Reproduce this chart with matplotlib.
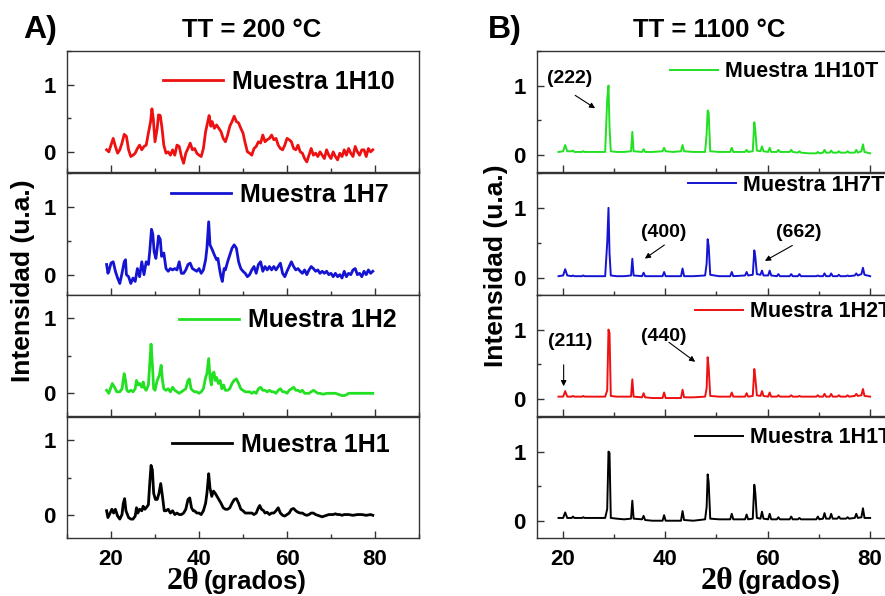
import matplotlib
matplotlib.use("Agg")
import matplotlib.pyplot as plt
from matplotlib.ticker import MultipleLocator

plt.rcParams['font.family'] = ['Liberation Sans', 'DejaVu Sans']
plt.rcParams['font.weight'] = 'bold'

# ---------------- TT = 200 °C (noisy, poorly crystallised) ----------------
x_1h10 = [19, 19.5, 20, 20.5, 21, 21.5, 22, 22.5, 23, 23.5,
          24, 24.5, 25, 25.5, 26, 26.5, 27, 27.5, 28, 28.5,
          29, 29.3, 29.6, 30, 30.5, 30.8, 31.2, 31.6, 32, 32.5,
          33, 33.5, 34, 34.5, 35, 35.5, 36, 36.5, 37, 37.5,
          38, 38.5, 39, 39.5, 40, 40.5, 41, 41.5, 42, 42.3,
          42.7, 43, 43.5, 44, 44.5, 45, 45.5, 46, 46.5, 47,
          47.5, 48, 48.5, 49, 49.5, 50, 50.5, 51, 51.5, 52,
          52.5, 53, 53.5, 54, 54.5, 55, 55.5, 56, 56.5, 57,
          57.5, 58, 58.5, 59, 59.5, 60, 60.5, 61, 61.5, 62,
          62.5, 63, 63.5, 64, 64.5, 65, 65.5, 66, 66.5, 67,
          67.5, 68, 68.5, 69, 69.5, 70, 70.5, 71, 71.5, 72,
          72.5, 73, 73.5, 74, 74.5, 75, 75.5, 76, 76.5, 77,
          77.5, 78, 78.5, 79, 79.5]
y_1h10 = [0.03, 0.0, 0.1, 0.2, 0.08, -0.02, 0.03, 0.13, 0.26, 0.23,
          0.03, -0.07, -0.05, -0.02, 0.05, 0.1, 0.03, 0.08, 0.1, 0.28,
          0.45, 0.64, 0.5, 0.15, 0.35, 0.55, 0.54, 0.35, 0.1, -0.02,
          0.0, -0.05, 0.03, -0.05, 0.1, 0.08, -0.07, -0.17, -0.02, 0.05,
          0.13, 0.03, 0.05, -0.02, -0.05, -0.07, 0.05, 0.3, 0.45, 0.54,
          0.38, 0.45, 0.35, 0.4, 0.35, 0.3, 0.2, 0.15, 0.25, 0.38,
          0.45, 0.53, 0.45, 0.43, 0.35, 0.28, 0.13, 0.0, -0.02, -0.05,
          0.05, 0.08, 0.15, 0.13, 0.25, 0.15, 0.18, 0.2, 0.25, 0.18,
          0.2, 0.1, 0.05, 0.03, 0.1, 0.2, 0.18, 0.15, 0.05, 0.03,
          0.1, 0.0, -0.02, -0.1, -0.15, -0.05, 0.05, -0.05, -0.02, -0.07,
          0.0, -0.05, -0.1, 0.03, -0.05, -0.1, 0.0, -0.07, -0.12, -0.02,
          -0.07, 0.03, -0.05, 0.05, -0.02, -0.07, 0.08, 0.0, -0.05, 0.03,
          0.03, -0.07, 0.05, 0.0, 0.03]

x_1h7 = [19, 19.3, 19.5, 20, 20.5, 21, 21.5, 22, 22.5, 23,
         23.3, 23.5, 24, 24.5, 25, 25.5, 26, 26.5, 27, 27.5,
         28, 28.5, 28.8, 29.2, 29.5, 29.8, 30.2, 30.5, 30.8, 31.2,
         31.5, 32, 32.5, 33, 33.5, 34, 34.5, 35, 35.5, 36,
         36.5, 37, 37.5, 38, 38.5, 39, 39.5, 40, 40.5, 41,
         41.5, 41.8, 42.2, 42.5, 43, 43.5, 44, 44.3, 44.7, 45,
         45.3, 45.7, 46, 46.5, 47, 47.5, 48, 48.5, 49, 49.5,
         50, 50.5, 51, 51.5, 52, 52.5, 53, 53.5, 54, 54.5,
         55, 55.5, 56, 56.5, 57, 57.5, 58, 58.5, 59, 59.5,
         60, 60.5, 61, 61.5, 62, 62.5, 63, 63.5, 64, 64.5,
         65, 65.5, 66, 66.5, 67, 67.5, 68, 68.5, 69, 69.5,
         70, 70.5, 71, 71.5, 72, 72.5, 73, 73.5, 74, 74.5,
         75, 75.5, 76, 76.5, 77, 77.5, 78, 78.5, 79, 79.5]
y_1h7 = [0.15, 0.02, 0.05, 0.17, 0.19, 0.05, -0.05, -0.13, 0.02, 0.19,
         0.22, 0.0, -0.03, -0.13, -0.05, -0.1, 0.09, -0.03, 0.19, 0.0,
         0.19, 0.15, 0.34, 0.67, 0.6, 0.34, 0.24, 0.39, 0.57, 0.52,
         0.27, 0.32, 0.09, 0.05, 0.09, 0.07, 0.09, 0.07, 0.19, 0.02,
         0.02, 0.07, 0.15, 0.17, 0.09, 0.07, 0.05, 0.09, 0.02, 0.07,
         0.22, 0.39, 0.78, 0.44, 0.37, 0.29, 0.22, 0.24, 0.07, -0.03,
         -0.1, 0.09, 0.07, 0.19, 0.29, 0.39, 0.44, 0.39, 0.19, 0.09,
         0.05, 0.02, -0.03, 0.0, 0.07, 0.12, 0.02, 0.15, 0.19, 0.05,
         0.12, 0.07, 0.12, 0.07, 0.12, 0.07, 0.12, 0.17, 0.02, -0.03,
         0.05, 0.12, 0.19, 0.12, 0.07, 0.09, 0.05, 0.02, 0.07, 0.0,
         0.07, 0.12, 0.09, 0.05, 0.07, 0.02, 0.05, 0.02, 0.05, 0.0,
         0.02, -0.03, 0.02, -0.03, 0.0, -0.05, 0.05, -0.03, 0.02, 0.0,
         0.07, 0.09, 0.0, 0.02, -0.03, 0.05, 0.0, 0.07, 0.02, 0.05]

x_1h2 = [19, 19.5, 20, 20.3, 20.8, 21.3, 22, 22.5, 23, 23.3,
         23.6, 24, 24.5, 25, 25.5, 25.8, 26.2, 26.5, 27, 27.3,
         27.7, 28, 28.5, 28.8, 29.1, 29.4, 29.7, 30, 30.5, 31,
         31.4, 31.7, 32, 32.5, 33, 33.5, 34, 34.5, 35, 35.5,
         36, 36.5, 37, 37.5, 37.8, 38.2, 38.5, 39, 39.5, 40,
         40.5, 41, 41.5, 41.8, 42.2, 42.5, 42.8, 43.1, 43.4, 43.7,
         44, 44.4, 44.8, 45.2, 45.6, 46, 46.5, 47, 47.5, 48,
         48.5, 49, 49.5, 50, 50.5, 51, 51.5, 52, 52.5, 53,
         53.5, 54, 54.5, 55, 55.5, 56, 56.5, 57, 57.5, 58,
         58.5, 59, 59.5, 60, 60.5, 61, 61.5, 62, 62.5, 63,
         63.5, 64, 64.5, 65, 65.5, 66, 66.5, 67, 67.5, 68,
         68.5, 69, 69.5, 70, 70.5, 71, 71.5, 72, 72.5, 73,
         73.5, 74, 75, 76, 77, 78, 79, 79.5]
y_1h2 = [0.04, 0.0, 0.08, 0.13, 0.08, 0.02, 0.02, 0.06, 0.26, 0.17,
         0.04, 0.02, 0.04, 0.02, 0.06, 0.17, 0.11, 0.13, 0.08, 0.15,
         0.06, 0.04, 0.11, 0.39, 0.65, 0.39, 0.06, 0.04, 0.17, 0.24,
         0.37, 0.17, 0.06, 0.04, 0.06, 0.02, 0.08, 0.04, 0.02, 0.0,
         0.02, 0.04, 0.06, 0.17, 0.19, 0.06, 0.04, 0.02, 0.02, 0.0,
         0.02, 0.06, 0.21, 0.26, 0.46, 0.21, 0.11, 0.26, 0.28, 0.17,
         0.21, 0.13, 0.17, 0.06, 0.11, 0.04, 0.04, 0.06, 0.13, 0.17,
         0.19, 0.13, 0.06, 0.04, 0.02, 0.02, 0.02, 0.0, 0.02, 0.0,
         0.06, 0.08, 0.04, 0.04, 0.02, 0.04, 0.02, 0.02, 0.0, 0.04,
         0.06, 0.02, 0.02, 0.0, 0.04, 0.06, 0.08, 0.04, 0.04, 0.02,
         0.04, 0.0, 0.0, 0.0, 0.02, 0.04, 0.02, 0.0, 0.0, -0.01,
         -0.01, 0.0, 0.0, 0.0, 0.0, 0.0, -0.01, -0.02, -0.03, -0.03,
         -0.02, 0.0, 0.0, 0.0, 0.0, 0.0, 0.0, 0.0]

x_1h1 = [19, 19.3, 19.8, 20.2, 20.6, 21, 21.5, 22, 22.5, 22.8,
         23.1, 23.4, 24, 24.5, 25, 25.5, 25.8, 26.1, 26.5, 27,
         27.3, 27.7, 28, 28.5, 28.8, 29.1, 29.4, 29.7, 30.1, 30.5,
         30.9, 31.3, 31.7, 32.1, 32.5, 33, 33.5, 34, 34.5, 35,
         35.5, 36, 36.5, 37, 37.5, 37.9, 38.3, 38.7, 39, 39.5,
         40, 40.5, 41, 41.5, 41.8, 42.2, 42.5, 42.9, 43.3, 43.7,
         44.1, 44.5, 45, 45.5, 46, 46.5, 47, 47.5, 48, 48.5,
         49, 49.5, 50, 50.5, 51, 51.5, 52, 52.5, 53, 53.5,
         53.8, 54.2, 54.7, 55, 55.5, 56, 56.5, 57, 57.5, 58,
         58.5, 59, 59.5, 60, 60.5, 61, 61.5, 62, 62.5, 63,
         63.5, 64, 64.5, 65, 65.5, 66, 66.5, 67, 67.5, 68,
         68.5, 69, 69.5, 70, 70.5, 71, 71.5, 72, 72.5, 73,
         74, 75, 76, 77, 78, 79, 79.5]
y_1h1 = [0.06, -0.03, 0.03, 0.08, 0.03, 0.08, -0.01, -0.05, 0.01, 0.16,
         0.22, 0.06, -0.03, -0.05, -0.05, -0.01, 0.1, 0.03, 0.08, 0.06,
         0.12, 0.08, 0.1, 0.14, 0.42, 0.66, 0.6, 0.29, 0.21, 0.21,
         0.29, 0.42, 0.25, 0.06, 0.06, 0.08, 0.03, 0.06, 0.01, 0.03,
         0.01, 0.01, 0.03, 0.08, 0.21, 0.23, 0.1, 0.06, 0.06, 0.03,
         0.03, 0.01, 0.06, 0.16, 0.29, 0.55, 0.36, 0.25, 0.32, 0.29,
         0.25, 0.21, 0.16, 0.1, 0.08, 0.08, 0.1, 0.16, 0.21, 0.22,
         0.16, 0.08, 0.06, 0.03, 0.03, 0.03, 0.03, 0.01, 0.03, 0.1,
         0.13, 0.08, 0.06, 0.03, 0.04, 0.01, 0.03, 0.03, 0.06, 0.1,
         0.03, 0.0, -0.01, 0.01, 0.03, 0.08, 0.09, 0.06, 0.04, 0.03,
         0.03, 0.01, 0.0, 0.01, 0.03, 0.03, 0.01, 0.0, -0.01, -0.02,
         -0.01, 0.0, 0.01, 0.01, 0.01, 0.02, 0.01, 0.01, 0.0, 0.01,
         0.01, 0.0, 0.01, 0.01, 0.0, 0.01, 0.0]

# ---------------- TT = 1100 °C (sharp reflections) ----------------
x_1100 = [19.2, 20.1, 20.5, 20.9, 21.8, 22.0, 22.3, 23.8, 24.0, 24.3,
          26.0, 28.3, 28.7, 28.95, 29.15, 29.4, 30.5, 32.0, 33.35, 33.6,
          33.85, 35.5, 35.8, 36.1, 37.5, 39.5, 39.8, 40.1, 41.5, 43.1,
          43.4, 43.7, 45.5, 47.8, 48.1, 48.3, 48.5, 48.8, 50.5, 52.7,
          53.0, 53.3, 55.6, 55.9, 56.2, 57.1, 57.4, 57.6, 57.9, 58.6,
          58.9, 59.2, 60.1, 60.4, 60.7, 61.8, 62.1, 62.4, 64.3, 64.6,
          64.9, 65.9, 66.2, 66.5, 68.0, 69.5, 69.8, 70.1, 70.8, 71.1,
          71.4, 72.1, 72.4, 72.7, 73.6, 73.9, 74.2, 75.3, 75.6, 75.9,
          77.0, 77.3, 77.6, 78.3, 78.6, 78.9, 80.0]
y_1h10t = [0.04, 0.05, 0.14, 0.05, 0.05, 0.06, 0.04, 0.04, 0.05, 0.04,
           0.04, 0.04, 0.8, 1.0, 0.4, 0.05, 0.04, 0.04, 0.05, 0.33,
           0.05, 0.04, 0.08, 0.04, 0.04, 0.05, 0.1, 0.05, 0.04, 0.05,
           0.14, 0.05, 0.04, 0.04, 0.3, 0.64, 0.6, 0.05, 0.04, 0.04,
           0.1, 0.04, 0.04, 0.07, 0.04, 0.05, 0.47, 0.35, 0.06, 0.05,
           0.12, 0.05, 0.04, 0.1, 0.04, 0.04, 0.07, 0.04, 0.04, 0.07,
           0.04, 0.03, 0.05, 0.03, 0.02, 0.02, 0.04, 0.02, 0.03, 0.07,
           0.03, 0.03, 0.06, 0.03, 0.03, 0.05, 0.03, 0.03, 0.05, 0.03,
           0.03, 0.07, 0.03, 0.05, 0.15, 0.04, 0.02]
y_1h7t = [0.02, 0.03, 0.12, 0.03, 0.02, 0.03, 0.02, 0.02, 0.03, 0.02,
          0.02, 0.02, 0.5, 1.0, 0.35, 0.03, 0.02, 0.02, 0.03, 0.27,
          0.03, 0.02, 0.07, 0.02, 0.02, 0.02, 0.08, 0.02, 0.02, 0.02,
          0.13, 0.02, 0.02, 0.03, 0.2, 0.55, 0.45, 0.04, 0.02, 0.02,
          0.08, 0.02, 0.03, 0.08, 0.03, 0.04, 0.39, 0.3, 0.05, 0.04,
          0.1, 0.03, 0.03, 0.1, 0.03, 0.02, 0.05, 0.02, 0.02, 0.05,
          0.02, 0.02, 0.05, 0.02, 0.02, 0.02, 0.03, 0.02, 0.02, 0.06,
          0.02, 0.02, 0.06, 0.02, 0.02, 0.04, 0.02, 0.02, 0.03, 0.02,
          0.03, 0.06, 0.03, 0.05, 0.14, 0.04, 0.02]
y_1h2t = [0.03, 0.03, 0.11, 0.03, 0.03, 0.04, 0.03, 0.03, 0.04, 0.03,
          0.03, 0.03, 0.12, 1.0, 0.95, 0.04, 0.03, 0.03, 0.03, 0.28,
          0.03, 0.02, 0.08, 0.02, 0.01, 0.01, 0.09, 0.01, 0.01, 0.01,
          0.13, 0.02, 0.02, 0.03, 0.15, 0.6, 0.45, 0.04, 0.03, 0.03,
          0.09, 0.03, 0.03, 0.08, 0.03, 0.04, 0.43, 0.3, 0.05, 0.04,
          0.11, 0.04, 0.03, 0.09, 0.03, 0.03, 0.05, 0.03, 0.03, 0.05,
          0.03, 0.03, 0.04, 0.03, 0.03, 0.03, 0.05, 0.03, 0.03, 0.07,
          0.03, 0.03, 0.07, 0.03, 0.03, 0.05, 0.03, 0.03, 0.05, 0.03,
          0.04, 0.07, 0.04, 0.05, 0.14, 0.04, 0.03]
y_1h1t = [0.04, 0.04, 0.12, 0.04, 0.04, 0.06, 0.04, 0.04, 0.05, 0.04,
          0.04, 0.04, 0.17, 1.0, 0.98, 0.04, 0.03, 0.02, 0.03, 0.29,
          0.03, 0.02, 0.07, 0.01, 0.0, 0.0, 0.08, 0.0, 0.0, 0.0,
          0.14, 0.01, 0.0, 0.02, 0.2, 0.67, 0.55, 0.03, 0.02, 0.02,
          0.1, 0.02, 0.02, 0.09, 0.02, 0.03, 0.52, 0.4, 0.04, 0.03,
          0.13, 0.03, 0.02, 0.1, 0.02, 0.02, 0.05, 0.02, 0.02, 0.06,
          0.02, 0.02, 0.04, 0.02, 0.02, 0.02, 0.06, 0.02, 0.03, 0.11,
          0.03, 0.03, 0.1, 0.03, 0.03, 0.06, 0.03, 0.03, 0.05, 0.03,
          0.04, 0.1, 0.04, 0.05, 0.18, 0.04, 0.04]

left_series = [
    (x_1h10, y_1h10, "Muestra 1H10", "#ee1111"),
    (x_1h7, y_1h7, "Muestra 1H7", "#1414d2"),
    (x_1h2, y_1h2, "Muestra 1H2", "#22e022"),
    (x_1h1, y_1h1, "Muestra 1H1", "#000000"),
]
right_series = [
    (y_1h10t, "Muestra 1H10T", "#22e022"),
    (y_1h7t, "Muestra 1H7T", "#1414d2"),
    (y_1h2t, "Muestra 1H2T", "#ee1111"),
    (y_1h1t, "Muestra 1H1T", "#000000"),
]

W, H = 885, 596
fig = plt.figure(figsize=(W / 100, H / 100), dpi=100)

rows_px = [(51, 172), (173, 295), (295, 416), (417, 538)]
left_ylims = [(-0.3, 1.5), (-0.3, 1.5), (-0.3, 1.3), (-0.3, 1.3)]
left_leg = [(0.273, 0.745), (0.295, 0.82), (0.318, 0.79), (0.298, 0.77)]
right_leg = [(0.371, 0.83), (0.421, 0.90), (0.440, 0.86), (0.440, 0.83)]


def px_axes(x0, x1, top, bottom):
    return fig.add_axes([x0 / W, 1 - bottom / H, (x1 - x0) / W, (bottom - top) / H])


def style(ax, last):
    for s in ax.spines.values():
        s.set_color("#333333")
        s.set_linewidth(1.0)
    ax.xaxis.set_major_locator(MultipleLocator(20))
    ax.xaxis.set_minor_locator(MultipleLocator(10))
    ax.yaxis.set_major_locator(MultipleLocator(1))
    ax.yaxis.set_minor_locator(MultipleLocator(0.5))
    ax.tick_params(which="both", direction="in", top=False, right=False,
                   color="#333333", width=1.0)
    ax.tick_params(which="major", length=5, labelsize=16, pad=8)
    ax.tick_params(which="minor", length=3)
    if not last:
        ax.tick_params(axis="x", labelbottom=False)


left_axes = []
for i, (xs, ys, lab, col) in enumerate(left_series):
    ax = px_axes(67, 419, *rows_px[i])
    ax.plot(xs, ys, color=col, lw=2.0, label=lab)
    ax.set_xlim(10, 90)
    ax.set_ylim(*left_ylims[i])
    style(ax, i == 3)
    ax.legend(loc="center left", bbox_to_anchor=left_leg[i], frameon=False,
              handlelength=2.4, handletextpad=0.36, borderpad=0, borderaxespad=0,
              prop={"weight": "bold", "size": 18})
    left_axes.append(ax)

right_axes = []
for i, (ys, lab, col) in enumerate(right_series):
    ax = px_axes(537, 537 + 70 * 5.125, *rows_px[i])
    ax.plot(x_1100, ys, color=col, lw=1.4, label=lab)
    ax.set_xlim(15, 85)
    ax.set_ylim(-0.25, 1.5)
    style(ax, i == 3)
    ax.legend(loc="center left", bbox_to_anchor=right_leg[i], frameon=False,
              handlelength=2.23, handletextpad=0.33, borderpad=0, borderaxespad=0,
              prop={"weight": "bold", "size": 15.5})
    right_axes.append(ax)

# Miller indices of the main reflections
arrow = dict(arrowstyle="-|>", color="black", lw=0.8, mutation_scale=8)
akw = dict(fontsize=14, fontweight="bold", ha="center", va="center")
right_axes[0].annotate("", xy=(26.8, 0.65), xytext=(22.0, 0.88), arrowprops=arrow)
right_axes[0].text(21.4, 1.1, "(222)", **akw)
right_axes[1].annotate("", xy=(35.6, 0.25), xytext=(40.3, 0.49), arrowprops=arrow)
right_axes[1].text(39.8, 0.65, "(400)", **akw)
right_axes[1].annotate("", xy=(59.0, 0.22), xytext=(65.3, 0.48), arrowprops=arrow)
right_axes[1].text(66.0, 0.65, "(662)", **akw)
right_axes[2].annotate("", xy=(20.2, 0.14), xytext=(20.2, 0.53), arrowprops=arrow)
right_axes[2].text(21.4, 0.83, "(211)", **akw)
right_axes[2].annotate("", xy=(46.3, 0.51), xytext=(40.3, 0.84), arrowprops=arrow)
right_axes[2].text(39.8, 0.9, "(440)", **akw)

# Panel letters and titles
fig.text(40 / W, 1 - 30 / H, "A)", fontsize=23, fontweight="bold", ha="center", va="center")
fig.text(252 / W, 1 - 30 / H, "TT = 200 °C", fontsize=18.5, fontweight="bold", ha="center", va="center")
fig.text(505 / W, 1 - 30 / H, "B)", fontsize=23, fontweight="bold", ha="center", va="center")
fig.text(709 / W, 1 - 30 / H, "TT = 1100 °C", fontsize=18.5, fontweight="bold", ha="center", va="center")

# Axis titles
fig.text(23 / W, 1 - 281 / H, "Intensidad (u.a.)", rotation=90, fontsize=19,
         fontweight="bold", ha="center", va="center")
fig.text(496 / W, 1 - 266 / H, "Intensidad (u.a.)", rotation=90, fontsize=19,
         fontweight="bold", ha="center", va="center")
for x2t, xgr in [(199, 204), (733, 738)]:
    fig.text(x2t / W, 1 - 589 / H, "2θ", fontsize=23, fontweight="bold",
             family=["Liberation Serif", "DejaVu Serif"], ha="right", va="baseline")
    fig.text(xgr / W, 1 - 589 / H, "(grados)", fontsize=18.5, fontweight="bold",
             ha="left", va="baseline")

fig.savefig("out.png", dpi=100)
